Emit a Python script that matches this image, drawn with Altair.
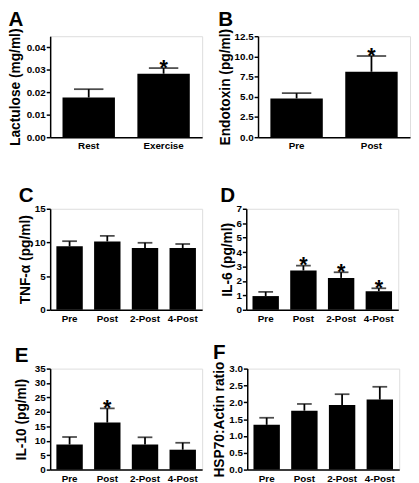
import altair as alt
import pandas as pd

FONT = "Liberation Sans"

# Panel A
a_cats = ["Rest", "Exercise"]
a_vals = [0.0177, 0.0283]
a_errs = [0.0037, 0.0025]
a_star = ["", "*"]

# Panel B
b_cats = ["Pre", "Post"]
b_vals = [4.8, 8.1]
b_errs = [0.65, 1.95]
b_star = ["", "*"]

# Panel C
c_cats = ["Pre", "Post", "2-Post", "4-Post"]
c_vals = [9.42, 10.15, 9.17, 9.17]
c_errs = [0.77, 0.82, 0.78, 0.6]
c_star = ["", "", "", ""]

# Panel D
d_cats = ["Pre", "Post", "2-Post", "4-Post"]
d_vals = [0.95, 2.72, 2.21, 1.29]
d_errs = [0.29, 0.34, 0.39, 0.2]
d_star = ["", "*", "*", "*"]

# Panel E
e_cats = ["Pre", "Post", "2-Post", "4-Post"]
e_vals = [8.7, 16.3, 8.7, 6.9]
e_errs = [2.6, 4.9, 2.5, 2.4]
e_star = ["", "*", "", ""]

# Panel F
f_cats = ["Pre", "Post", "2-Post", "4-Post"]
f_vals = [1.33, 1.75, 1.92, 2.08]
f_errs = [0.21, 0.2, 0.32, 0.38]
f_star = ["", "", "", ""]


def panel(letter, cats, vals, errs, stars, ytitle, ymax, ticks, fmt, cap, tpad=2):
    df = pd.DataFrame({
        "cat": cats,
        "val": vals,
        "hi": [v + e for v, e in zip(vals, errs)],
        "star": stars,
    })
    x = alt.X(
        "cat:N", sort=cats, title=None,
        scale=alt.Scale(paddingInner=0.3, paddingOuter=0.165),
        axis=alt.Axis(labelAngle=0, ticks=False, labelPadding=4, labelFont=FONT,
                      labelFontWeight="bold", labelFontSize=10, labelColor="black",
                      domainColor="black", domainWidth=1.5, grid=False),
    )
    yscale = alt.Scale(domain=[0, ymax], nice=False, zero=True)
    yaxis = alt.Axis(values=ticks, format=fmt, grid=False, tickSize=4,
                     tickWidth=1.5, tickColor="black", domainColor="black",
                     domainWidth=1.5, labelFont=FONT, labelFontWeight="bold",
                     labelFontSize=10, labelColor="black", labelPadding=1,
                     labelOverlap=False, labelFlush=False,
                     titleFont=FONT, titleFontWeight="bold", titleFontSize=14,
                     titleColor="black", titlePadding=tpad)
    base = alt.Chart(df).encode(x=x)
    bars = base.mark_bar(color="black").encode(
        y=alt.Y("val:Q", scale=yscale, title=ytitle, axis=yaxis))
    rule = base.mark_rule(color="black", strokeWidth=1.8).encode(
        y=alt.Y("val:Q", scale=yscale, title=ytitle, axis=yaxis), y2="hi:Q")
    tick = base.mark_tick(color="black", thickness=1.8, size=cap).encode(
        y=alt.Y("hi:Q", scale=yscale, title=ytitle, axis=yaxis))
    star = base.mark_text(font=FONT, fontWeight="bold", fontSize=22, color="black",
                          baseline="alphabetic", dy=7).encode(
        y=alt.Y("hi:Q", scale=yscale, title=ytitle, axis=yaxis), text="star:N")
    return alt.layer(bars, rule, tick, star).properties(
        width=155, height=103,
        title=alt.TitleParams(letter, anchor="start", frame="bounds", fontSize=21,
                              font=FONT, fontWeight="bold", color="black", offset=-2),
    )


pA = panel("A", a_cats, a_vals, a_errs, a_star, "Lactulose (mg/ml)", 0.045,
           [0, 0.01, 0.02, 0.03, 0.04], ".2f", 30, tpad=4)
pB = panel("B", b_cats, b_vals, b_errs, b_star, "Endotoxin (pg/ml)", 12.5,
           [0, 2.5, 5, 7.5, 10, 12.5], ".1f", 30)
pC = panel("C", c_cats, c_vals, c_errs, c_star, "TNF-α (pg/ml)", 15,
           [0, 5, 10, 15], "d", 15)
pD = panel("D", d_cats, d_vals, d_errs, d_star, "IL-6 (pg/ml)", 7,
           [0, 1, 2, 3, 4, 5, 6, 7], "d", 15)
pE = panel("E", e_cats, e_vals, e_errs, e_star, "IL-10 (pg/ml)", 35,
           [0, 5, 10, 15, 20, 25, 30, 35], "d", 15, tpad=6)
pF = panel("F", f_cats, f_vals, f_errs, f_star, "HSP70:Actin ratio", 3,
           [0, 0.5, 1, 1.5, 2, 2.5, 3], ".1f", 15)

row1 = alt.hconcat(pA, pB, spacing=15)
row2 = alt.hconcat(pC, pD, spacing=16)
row3 = alt.hconcat(pE, pF, spacing=9)

chart = alt.vconcat(
    row1,
    alt.vconcat(row2, row3, spacing=17),
    spacing=33,
).properties(
    padding={"left": 0, "top": -4, "right": 0, "bottom": 0}
).configure_view(stroke=None).configure(background="white").configure_axisY(
    labelOverlap=False
)

chart.save("out.html", embed_options={"renderer": "svg", "actions": False})
